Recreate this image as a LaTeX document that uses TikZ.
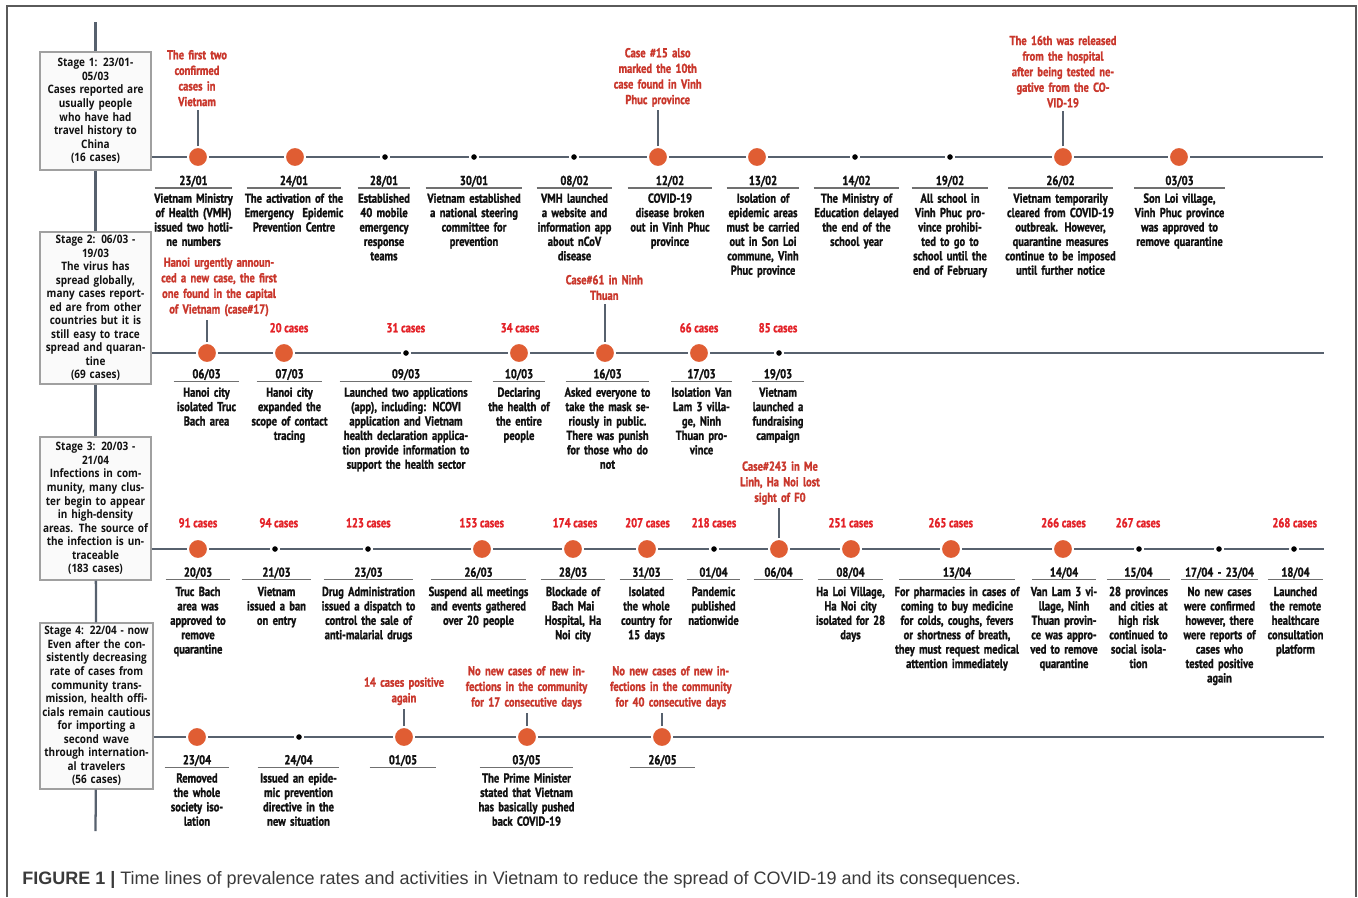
\documentclass[tikz,border=0pt]{standalone}
\usepackage{fontspec}
\newfontfamily\condf[FakeStretch=0.81, BoldFeatures={FakeBold=1.3}]{PT Sans}
\newfontfamily\boxf[FakeStretch=0.86]{Open Sans}
\newfontfamily\capf{Liberation Sans}
\definecolor{tlgray}{HTML}{57616E}
\definecolor{dotorange}{HTML}{E05D33}
\definecolor{annred}{HTML}{C9372C}
\definecolor{casered}{HTML}{E32228}
\definecolor{txtblack}{HTML}{111111}
\definecolor{ulgray}{HTML}{707070}
\definecolor{boxdraw}{HTML}{A0A0A0}
\definecolor{boxfill}{HTML}{FAFAFA}
\definecolor{framecol}{HTML}{5A5A5A}
\definecolor{capcol}{HTML}{3A3A3A}
\tikzset{
  framel/.style={draw=framecol, line width=1pt},
  vline/.style={draw=tlgray, line width=1.7pt},
  tline/.style={draw=tlgray, line width=2.2pt},
  stem/.style={draw=tlgray, line width=1.3pt, shorten >=2.5pt},
  uline/.style={draw=ulgray, line width=1pt},
  stagebox/.style={draw=boxdraw, fill=boxfill, line width=0.8pt, align=center,
    text width=80.25pt, inner xsep=1.5pt, inner ysep=0pt, text=txtblack,
    font=\boxf\bfseries\fontsize{8.7}{10.15}\selectfont},
  bigdot/.style={circle, fill=dotorange, draw=white, line width=1.5pt, minimum size=15pt, inner sep=0pt},
  smalldot/.style={circle, fill=black, draw=white, line width=1.5pt, minimum size=6pt, inner sep=0pt},
  datelbl/.style={anchor=base, align=center, inner sep=0pt, text depth=2pt, text=txtblack,
    font=\condf\bfseries\fontsize{9.75}{10.8}\selectfont},
  desc/.style={anchor=base, align=center, inner sep=0pt, text width=112.5pt, text=txtblack,
    font=\condf\bfseries\fontsize{9.75}{10.8}\selectfont},
  ann/.style={anchor=base, align=center, inner sep=0pt, text width=135pt, text=annred,
    font=\condf\bfseries\fontsize{9.75}{11.7}\selectfont},
  caselbl/.style={anchor=base, inner sep=0pt, text=casered,
    font=\condf\bfseries\fontsize{9.75}{10.8}\selectfont},
}
\newcommand{\tlevent}[7]{%
  \node[#2] (#1) at (#3,\rowy) {};
  \pgfmathsetmacro{\ulw}{#5*0.75}%
  \node[datelbl, text width=\ulw pt] (#1d) at (#4,\dby) {#6};
  \draw[uline] (#1d.south west) -- (#1d.south east);
  \node[desc] (#1t) at (#4,\tby) {#7};
}
\newcommand{\tleventnd}[6]{%
  \node[#2] (#1) at (#3,\rowy) {};
  \pgfmathsetmacro{\ulw}{#5*0.75}%
  \node[datelbl, text width=\ulw pt] (#1d) at (#4,\dby) {#6};
  \draw[uline] (#1d.south west) -- (#1d.south east);
}
\begin{document}
\begin{tikzpicture}[x=0.75pt,y=-0.75pt]
\useasboundingbox (0,0) rectangle (1358,897);
% frame
\draw[framel] (7,897) -- (7,6) -- (1356,6) -- (1356,897);
% stage boxes
\node[stagebox, minimum height=88.5pt] (s1) at (95.5,111)
  {Stage 1: 23/01-\\05/03\\Cases reported are\\usually people\\who have had\\travel history to\\China\\(16 cases)};
\node[stagebox, minimum height=114pt] (s2) at (95.5,308)
  {Stage 2: 06/03 -\\19/03\\The virus has\\spread globally,\\many cases report-\\ed are from other\\countries but it is\\still easy to trace\\spread and quaran-\\tine\\(69 cases)};
\node[stagebox, minimum height=107.25pt] (s3) at (95.5,508.5)
  {Stage 3: 20/03 -\\21/04\\Infections in com-\\munity, many clus-\\ter begin to appear\\in high-density\\areas. The source of\\the infection is un-\\traceable\\(183 cases)};
\node[stagebox, minimum height=124.5pt, text width=81.75pt] (s4) at (96.5,706)
  {Stage 4: 22/04 - now\\Even after the con-\\sistently decreasing\\rate of cases from\\community trans-\\mission, health offi-\\cials remain cautious\\for importing a\\second wave\\through internation-\\al travelers\\(56 cases)};
\coordinate (vtop) at (95.5,22);
\coordinate (vbot) at (95.5,831);
\draw[vline] (vtop) -- (s1);
\draw[vline] (s1) -- (s2);
\draw[vline] (s2) -- (s3);
\draw[vline] (s3) -- (s4);
\draw[vline] (s4) -- (vbot);
% timelines
\coordinate (r1e) at (1323,157);
\coordinate (r2e) at (1324,353);
\coordinate (r3e) at (1324,549);
\coordinate (r4e) at (1324,737);
\draw[tline] (s1.east |- r1e) -- (r1e);
\draw[tline] (s2.east |- r2e) -- (r2e);
\draw[tline] (s3.east |- r3e) -- (r3e);
\draw[tline] (s4.east |- r4e) -- (r4e);

% ---------- Row 1
\def\rowy{157}\def\dby{185}\def\tby{202.7}
\tlevent{a1}{bigdot}{198}{193.5}{77}{23/01}{Vietnam Ministry\\of Health (VMH)\\issued two hotli-\\ne numbers}
\tlevent{a2}{bigdot}{295}{294}{94}{24/01}{The activation of the\\Emergency~ Epidemic\\Prevention Centre}
\tlevent{a3}{smalldot}{385}{384}{52}{28/01}{Established\\40 mobile\\emergency\\response\\teams}
\tlevent{a4}{smalldot}{474}{474}{96}{30/01}{Vietnam established\\a national steering\\committee for\\prevention}
\tlevent{a5}{smalldot}{574}{574.5}{75}{08/02}{VMH launched\\a website and\\information app\\about nCoV\\disease}
\tlevent{a6}{bigdot}{658}{670}{84}{12/02}{COVID-19\\disease broken\\out in Vinh Phuc\\province}
\tlevent{a7}{bigdot}{757}{763}{72}{13/02}{Isolation of\\epidemic areas\\must be carried\\out in Son Loi\\commune, Vinh\\Phuc province}
\tlevent{a8}{smalldot}{855}{856.5}{85}{14/02}{The Ministry of\\Education delayed\\the end of the\\school year}
\tlevent{a9}{smalldot}{950}{950}{76}{19/02}{All school in\\Vinh Phuc pro-\\vince prohibi-\\ted to go to\\school until the\\end of February}
\tlevent{a10}{bigdot}{1063}{1060.5}{105}{26/02}{Vietnam temporarily\\cleared from COVID-19\\outbreak. However,\\quarantine measures\\continue to be imposed\\until further notice}
\tlevent{a11}{bigdot}{1179}{1179.5}{91}{03/03}{Son Loi village,\\Vinh Phuc province\\was approved to\\remove quarantine}
\node[ann] (n1) at (197,59.3) {The first two\\confirmed\\cases in\\Vietnam};
\draw[stem] (a1) -- (a1 |- n1.south);
\node[ann] (n6) at (657.7,57.3) {Case \#15 also\\marked the 10th\\case found in Vinh\\Phuc province};
\draw[stem] (a6) -- (a6 |- n6.south);
\node[ann] (n10) at (1063,45) {The 16th was released\\from the hospital\\after being tested ne-\\gative from the CO-\\VID-19};
\draw[stem] (a10) -- (a10 |- n10.south);

% ---------- Row 2
\def\rowy{353}\def\dby{378.3}\def\tby{396.7}
\tlevent{b1}{bigdot}{207}{206.5}{65}{06/03}{Hanoi city\\isolated Truc\\Bach area}
\tlevent{b2}{bigdot}{284}{289.5}{65}{07/03}{Hanoi city\\expanded the\\scope of contact\\tracing}
\tlevent{b3}{smalldot}{406}{406}{132}{09/03}{Launched two applications\\(app), including: NCOVI\\application and Vietnam\\health declaration applica-\\tion provide information to\\support the health sector}
\tlevent{b4}{bigdot}{519}{519}{52}{10/03}{Declaring\\the health of\\the entire\\people}
\tlevent{b5}{bigdot}{605}{607.5}{83}{16/03}{Asked everyone to\\take the mask se-\\riously in public.\\There was punish\\for those who do\\not}
\tlevent{b6}{bigdot}{699}{701.5}{61}{17/03}{Isolation Van\\Lam 3 villa-\\ge, Ninh\\Thuan pro-\\vince}
\tlevent{b7}{smalldot}{779}{778}{52}{19/03}{Vietnam\\launched a\\fundraising\\campaign}
\node[ann] (m1) at (219,266.7) {Hanoi urgently announ-\\ced a new case, the first\\one found in the capital\\of Vietnam (case\#17)};
\draw[stem] (b1) -- (b1 |- m1.south);
\node[ann] (m5) at (604.3,284.3) {Case\#61 in Ninh\\Thuan};
\draw[stem] (b5) -- (b5 |- m5.south);
\node[caselbl] (c2) at (289,332.3) {20 cases};
\node[caselbl] (c3) at (405.8,332.3) {31 cases};
\node[caselbl] (c4) at (520,332.3) {34 cases};
\node[caselbl] (c6) at (699,332.3) {66 cases};
\node[caselbl] (c7) at (778,332.3) {85 cases};

% ---------- Row 3
\def\rowy{549}\def\dby{576.7}\def\tby{596}
\tlevent{d1}{bigdot}{198}{198}{64}{20/03}{Truc Bach\\area was\\approved to\\remove\\quarantine}
\tlevent{d2}{smalldot}{275}{276.5}{69}{21/03}{Vietnam\\issued a ban\\on entry}
\tlevent{d3}{smalldot}{368}{368.5}{89}{23/03}{Drug Administration\\issued a dispatch to\\control the sale of\\anti-malarial drugs}
\tlevent{d4}{bigdot}{482}{478.5}{95}{26/03}{Suspend all meetings\\and events gathered\\over 20 people}
\tlevent{d5}{bigdot}{573}{573}{64}{28/03}{Blockade of\\Bach Mai\\Hospital, Ha\\Noi city}
\tlevent{d6}{bigdot}{647}{646.5}{53}{31/03}{Isolated\\the whole\\country for\\15 days}
\tlevent{d7}{smalldot}{714}{713.5}{53}{01/04}{Pandemic\\published\\nationwide}
\tleventnd{d8}{bigdot}{779}{778.5}{49}{06/04}
\tlevent{d9}{bigdot}{851}{850.5}{65}{08/04}{Ha Loi Village,\\Ha Noi city\\isolated for 28\\days}
\tlevent{d10}{bigdot}{951}{957}{115}{13/04}{For pharmacies in cases of\\coming to buy medicine\\for colds, coughs, fevers\\or shortness of breath,\\they must request medical\\attention immediately}
\tlevent{d11}{bigdot}{1063}{1064}{64}{14/04}{Van Lam 3 vi-\\llage, Ninh\\Thuan provin-\\ce was appro-\\ved to remove\\quarantine}
\tlevent{d12}{smalldot}{1139}{1138.5}{63}{15/04}{28 provinces\\and cities at\\high risk\\continued to\\social isola-\\tion}
\tlevent{d13}{smalldot}{1219}{1219.5}{77}{17/04 - 23/04}{No new cases\\were confirmed\\however, there\\were reports of\\cases who\\tested positive\\again}
\tlevent{d14}{smalldot}{1294}{1295.5}{55}{18/04}{Launched\\the remote\\healthcare\\consultation\\platform}
\node[ann] (k8) at (780,470.7) {Case\#243 in Me\\Linh, Ha Noi lost\\sight of F0};
\draw[stem] (d8) -- (d8 |- k8.south);
\node[caselbl] (e1) at (198,527.3) {91 cases};
\node[caselbl] (e2) at (278.8,527.3) {94 cases};
\node[caselbl] (e3) at (368.3,527.3) {123 cases};
\node[caselbl] (e4) at (481.7,527.3) {153 cases};
\node[caselbl] (e5) at (575,527.3) {174 cases};
\node[caselbl] (e6) at (647.5,527.3) {207 cases};
\node[caselbl] (e7) at (714,527.3) {218 cases};
\node[caselbl] (e9) at (850.8,527.3) {251 cases};
\node[caselbl] (e10) at (950.7,527.3) {265 cases};
\node[caselbl] (e11) at (1063.5,527.3) {266 cases};
\node[caselbl] (e12) at (1138,527.3) {267 cases};
\node[caselbl] (e14) at (1294.7,527.3) {268 cases};

% ---------- Row 4
\def\rowy{737}\def\dby{764.3}\def\tby{782.5}
\tlevent{f1}{bigdot}{197}{197}{64}{23/04}{Removed\\the whole\\society iso-\\lation}
\tlevent{f2}{smalldot}{299}{298.5}{81}{24/04}{Issued an epide-\\mic prevention\\directive in the\\new situation}
\tleventnd{f3}{bigdot}{404}{403}{66}{01/05}
\tlevent{f4}{bigdot}{527}{526.5}{93}{03/05}{The Prime Minister\\stated that Vietnam\\has basically pushed\\back COVID-19}
\tleventnd{f5}{bigdot}{662}{662.5}{65}{26/05}
\node[ann] (g3) at (404,686.7) {14 cases positive\\again};
\draw[stem] (f3) -- (f3 |- g3.south);
\node[ann] (g4) at (526.5,675.3) {No new cases of new in-\\fections in the community\\for 17 consecutive days};
\draw[stem] (f4) -- (f4 |- g4.south);
\node[ann] (g5) at (670.8,675.3) {No new cases of new in-\\fections in the community\\for 40 consecutive days};
\draw[stem] (f5) -- (f5 |- g5.south);

% caption
\node[anchor=base west, inner sep=0pt, text=capcol, font=\capf\fontsize{13.5}{15}\selectfont] (cap) at (22,884)
  {{\bfseries FIGURE 1 |} Time lines of prevalence rates and activities in Vietnam to reduce the spread of COVID-19 and its consequences.};
\end{tikzpicture}
\end{document}
